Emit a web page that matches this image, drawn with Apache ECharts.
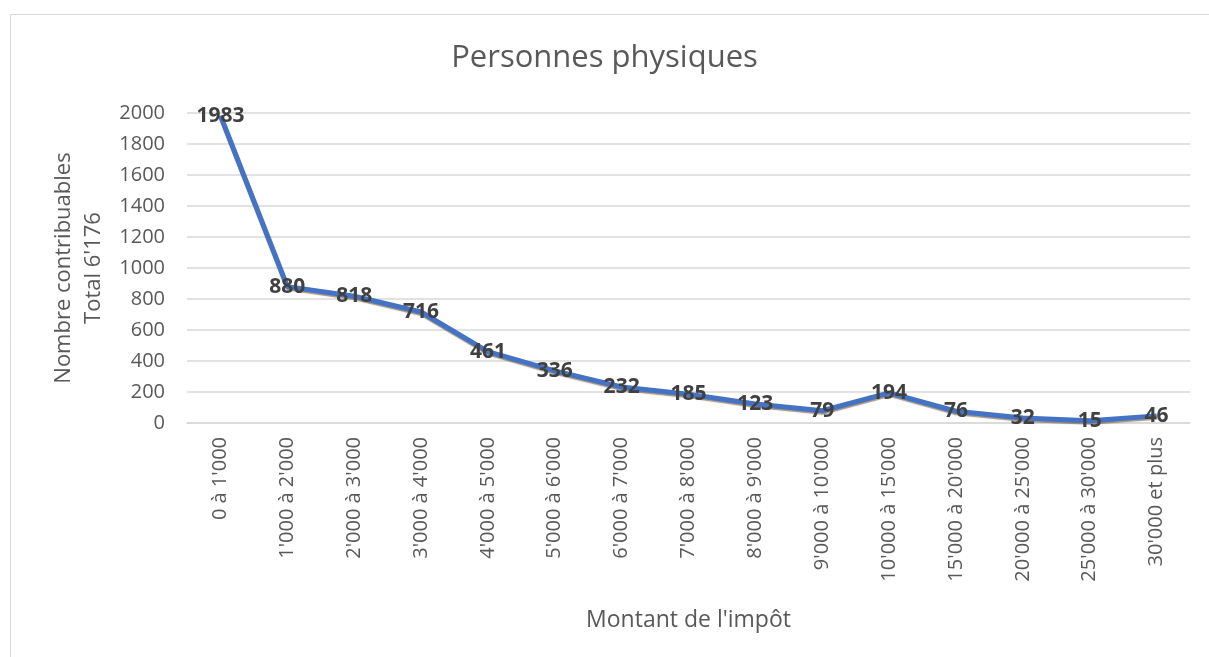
<!DOCTYPE html>
<html>
<head>
<meta charset="utf-8">
<script src="https://cdn.jsdelivr.net/npm/echarts@6/dist/echarts.min.js"></script>
<style>
  html, body { margin: 0; padding: 0; background: #fff; }
  #chart { width: 1209px; height: 657px; }
</style>
</head>
<body>
<div id="chart"></div>
<script>
// Tax brackets (CHF) and number of taxpayers in each
const categories = [
  "0 à 1'000", "1'000 à 2'000", "2'000 à 3'000", "3'000 à 4'000", "4'000 à 5'000",
  "5'000 à 6'000", "6'000 à 7'000", "7'000 à 8'000", "8'000 à 9'000", "9'000 à 10'000",
  "10'000 à 15'000", "15'000 à 20'000", "20'000 à 25'000", "25'000 à 30'000", "30'000 et plus"
];
const contribuables = [1983, 880, 818, 716, 461, 336, 232, 185, 123, 79, 194, 76, 32, 15, 46];
const yTicks = [0, 200, 400, 600, 800, 1000, 1200, 1400, 1600, 1800, 2000];

const FONT = "'Open Sans', 'Noto Sans', sans-serif";
const chart = echarts.init(document.getElementById('chart'));

chart.setOption({
  backgroundColor: '#fff',
  animation: false,
  title: {
    text: 'Personnes physiques',
    left: 'center',
    top: 38,
    textStyle: { fontFamily: FONT, fontSize: 31, fontWeight: 'normal', color: '#595959' }
  },
  graphic: [{
    type: 'rect',
    shape: { x: 10.5, y: 14.5, width: 1220, height: 700 },
    style: { fill: 'none', stroke: '#d9d9d9', lineWidth: 1 },
    silent: true,
    z: -1
  }],
  grid: { left: 187, right: 19, top: 113, bottom: 234 },
  xAxis: {
    type: 'category',
    data: categories,
    boundaryGap: true,
    name: "Montant de l'impôt",
    nameLocation: 'middle',
    nameGap: 186,
    nameTextStyle: { fontFamily: FONT, fontSize: 23, color: '#595959' },
    axisLine: { lineStyle: { color: '#d9d9d9', width: 1.5 } },
    axisTick: { show: false },
    axisLabel: {
      rotate: 90,
      interval: 0,
      margin: 14,
      fontFamily: FONT, fontSize: 20, color: '#595959'
    }
  },
  yAxis: {
    type: 'value',
    min: yTicks[0],
    max: yTicks[yTicks.length - 1],
    interval: yTicks[1] - yTicks[0],
    name: "Nombre contribuables\nTotal 6'176",
    nameLocation: 'middle',
    nameGap: 78,
    nameTextStyle: { fontFamily: FONT, fontSize: 22, color: '#595959', lineHeight: 30 },
    axisLine: { show: false },
    axisTick: { show: false },
    axisLabel: {
      margin: 22, fontFamily: FONT, fontSize: 20, color: '#595959',
      formatter: v => String(v)
    },
    splitLine: { lineStyle: { color: '#d9d9d9', width: 1.5 } }
  },
  series: [{
    type: 'line',
    data: contribuables,
    symbol: 'circle',
    symbolSize: 1,
    showSymbol: true,
    itemStyle: { color: 'rgba(0,0,0,0)', borderWidth: 0 },
    lineStyle: {
      color: '#4472c4',
      width: 5,
      shadowColor: 'rgba(90, 60, 30, 0.55)',
      shadowBlur: 1,
      shadowOffsetY: 1.5,
      shadowOffsetX: 0.5
    },
    label: {
      show: true,
      position: 'inside',
      padding: [11, 0, 0, 0],
      fontFamily: FONT,
      fontSize: 21,
      fontWeight: 'bold',
      color: '#404040'
    },
    labelLayout: { hideOverlap: false }
  }]
});
</script>
</body>
</html>
